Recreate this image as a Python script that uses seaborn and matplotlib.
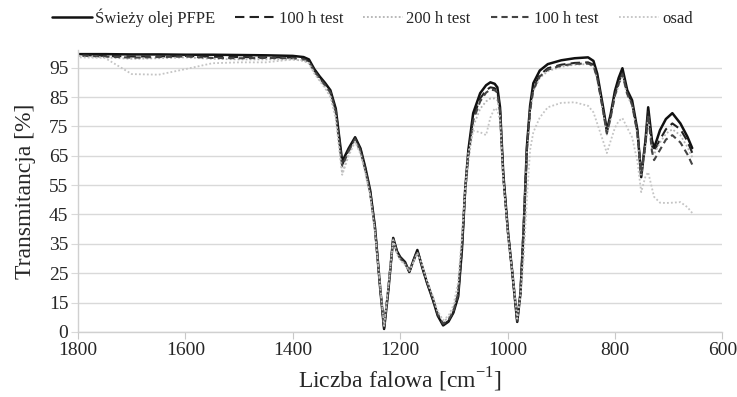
import numpy as np
import pandas as pd
import matplotlib
matplotlib.use('Agg')
import matplotlib.pyplot as plt
import seaborn as sns

# wavenumbers (cm-1), descending
wavenumber = [1800, 1750, 1700, 1650, 1600, 1550, 1500, 1450, 1400, 1380, 1370, 1360, 1350, 1340,
              1330, 1320, 1308, 1296, 1284, 1274, 1265, 1256, 1247, 1237, 1230, 1222, 1213, 1206,
              1200, 1191, 1183, 1175, 1168, 1159, 1150, 1139, 1130, 1120, 1110, 1101, 1092, 1085,
              1079, 1073, 1064, 1051, 1040, 1032, 1024, 1019, 1014, 1008, 999, 991, 982, 976,
              970, 964, 958, 952, 940, 925, 900, 875, 850, 840, 833, 822, 815, 808, 800, 793,
              786, 777, 768, 758, 751, 743, 738, 731, 727, 716, 705, 693, 678, 665, 656]

# transmittance in axis units (bottom grid line sits at 5, labelled "0")
fresh = [99.6, 99.6, 99.5, 99.5, 99.4, 99.4, 99.3, 99.2, 99.0, 98.6, 97.8, 94.5, 92.0, 89.8,
         87.3, 81.0, 63.0, 67.5, 71.3, 67.5, 61.0, 53.3, 40.7, 19.3, 6.0, 19.3, 37.0, 32.5,
         30.5, 28.8, 25.4, 29.5, 32.9, 27.0, 21.7, 15.9, 10.5, 7.2, 8.5, 11.5, 17.0, 33.0,
         53.3, 66.9, 79.5, 86.3, 89.0, 90.0, 89.5, 88.3, 81.5, 59.0, 38.7, 25.0, 8.4, 18.0,
         40.0, 68.0, 82.0, 89.7, 94.0, 96.2, 97.5, 98.2, 98.5, 97.3, 93.0, 81.5, 73.7, 79.0,
         87.0, 91.5, 94.8, 87.3, 83.9, 73.7, 57.7, 70.3, 81.5, 70.3, 67.6, 73.7, 77.5, 79.5,
         76.0, 71.5, 67.6]

test100_a = [99.3, 99.0, 98.8, 98.8, 99.0, 98.7, 98.6, 98.5, 98.4, 98.0, 97.2, 94.0, 91.5, 89.3,
             86.8, 80.5, 62.0, 67.0, 71.0, 67.2, 60.6, 53.0, 40.5, 19.5, 6.3, 19.8, 37.0, 32.3,
             30.3, 28.6, 25.5, 29.5, 32.7, 27.2, 21.8, 16.0, 10.8, 7.5, 8.7, 11.7, 17.5, 33.5,
             53.0, 66.0, 78.0, 84.5, 87.3, 88.3, 88.0, 87.0, 80.5, 58.5, 38.5, 25.0, 8.6, 18.3,
             40.5, 67.5, 81.0, 88.0, 92.5, 94.8, 96.0, 96.6, 96.8, 96.0, 92.0, 80.8, 73.0, 78.5,
             86.0, 90.0, 93.3, 86.5, 83.0, 73.0, 58.5, 69.5, 80.0, 68.5, 66.5, 70.5, 74.0, 76.0,
             74.0, 70.0, 66.0]

test200 = [99.0, 98.5, 98.0, 98.2, 98.5, 98.0, 97.8, 97.8, 97.8, 97.3, 96.5, 93.3, 90.8, 88.5,
           85.5, 78.5, 59.0, 65.5, 70.0, 66.0, 59.5, 51.8, 39.5, 19.8, 7.0, 20.5, 36.5, 31.8,
           29.8, 28.0, 25.8, 29.0, 32.0, 27.6, 22.3, 16.8, 11.8, 8.5, 9.8, 12.8, 19.5, 36.0,
           52.0, 63.0, 75.0, 81.0, 83.5, 84.5, 84.5, 84.0, 79.0, 57.5, 38.0, 25.3, 9.0, 18.8,
           41.5, 66.0, 80.0, 87.0, 91.5, 93.8, 95.3, 96.0, 96.2, 95.3, 91.0, 79.8, 72.2, 77.5,
           85.0, 89.0, 92.3, 85.5, 82.0, 72.0, 58.0, 68.5, 78.5, 67.5, 65.5, 69.5, 72.5, 74.0,
           72.0, 68.0, 64.5]

test100_b = [99.1, 98.8, 98.4, 98.6, 98.8, 98.3, 98.2, 98.3, 98.2, 97.8, 97.0, 93.8, 91.3, 89.0,
             86.5, 80.0, 61.5, 66.5, 70.6, 66.8, 60.2, 52.6, 40.2, 19.6, 6.5, 20.0, 36.7, 32.0,
             30.0, 28.4, 25.6, 29.2, 32.4, 27.4, 22.0, 16.3, 11.0, 7.8, 9.0, 12.0, 18.0, 34.0,
             52.5, 65.0, 77.0, 83.5, 86.5, 87.5, 87.3, 86.5, 80.0, 58.0, 38.3, 25.2, 8.8, 18.5,
             41.0, 67.0, 80.5, 87.5, 92.0, 94.3, 95.7, 96.3, 96.4, 95.6, 91.5, 80.3, 72.6, 78.0,
             85.5, 89.5, 92.8, 86.0, 82.5, 72.5, 59.0, 69.0, 79.0, 66.5, 63.5, 67.0, 70.5, 72.0,
             69.5, 65.5, 62.0]

osad = [98.5, 98.3, 92.8, 92.6, 94.5, 96.5, 96.8, 96.8, 97.8, 97.5, 96.5, 93.0, 90.5, 88.0,
        85.0, 77.5, 58.5, 65.0, 69.8, 65.5, 59.0, 51.5, 39.0, 19.8, 7.0, 20.5, 36.3, 31.5,
        29.5, 27.8, 25.8, 28.8, 31.8, 27.8, 22.5, 17.0, 12.0, 9.0, 10.5, 14.0, 22.0, 38.0,
        54.0, 66.0, 73.5, 73.0, 72.0, 78.0, 81.2, 80.5, 77.0, 57.0, 37.5, 25.0, 9.5, 17.0,
        30.0, 50.0, 67.0, 73.0, 78.0, 81.5, 83.0, 83.2, 82.0, 79.8, 76.0, 70.0, 65.9, 70.0,
        74.5, 76.8, 77.8, 74.5, 71.3, 63.0, 52.6, 58.0, 59.4, 54.0, 51.0, 49.0, 48.9, 49.0,
        49.2, 47.5, 45.5]

ytick_pos = [5, 15, 25, 35, 45, 55, 65, 75, 85, 95]
ytick_lab = ['0', '15', '25', '35', '45', '55', '65', '75', '85', '95']
xticks = [1800, 1600, 1400, 1200, 1000, 800, 600]

sns.set_style('white')
plt.rcParams['font.family'] = ['Liberation Serif', 'DejaVu Serif']
plt.rcParams['mathtext.fontset'] = 'custom'
plt.rcParams['mathtext.rm'] = 'Liberation Serif'

fig = plt.figure(figsize=(7.37, 3.97), dpi=100)
ax = fig.add_axes([0.106, 0.164, 0.874, 0.71])

series = [
    (fresh, 'Świeży olej PFPE', '#111111', '-', 1.8),
    (test100_a, '100 h test', '#222222', (0, (4.5, 2.5)), 1.5),
    (test200, '200 h test', '#b3b3b3', (0, (1, 1.2)), 1.3),
    (test100_b, '100 h test', '#444444', (0, (3, 2)), 1.5),
    (osad, 'osad', '#c4c4c4', (0, (1, 1.2)), 1.3),
]
for vals, lab, col, ls, lw in series:
    sns.lineplot(x=wavenumber, y=vals, ax=ax, color=col, linestyle=ls, linewidth=lw,
                 label=lab)

ax.set_xlim(1800, 600)
ax.set_ylim(5, 101)
ax.set_xticks(xticks)
ax.set_xticklabels([str(t) for t in xticks], fontsize=14)
ax.set_yticks(ytick_pos)
ax.set_yticklabels(ytick_lab, fontsize=14)
ax.yaxis.grid(True, color='#d9d9d9', linewidth=1)
ax.xaxis.grid(False)
for s in ['top', 'right']:
    ax.spines[s].set_visible(False)
for s in ['left', 'bottom']:
    ax.spines[s].set_color('#d0d0d0')
    ax.spines[s].set_linewidth(1)
ax.tick_params(axis='x', length=5, color='#c8c8c8', pad=2, direction='out', bottom=True)
ax.tick_params(axis='y', length=5, color='#d9d9d9', pad=2, direction='out', left=True)

ax.set_xlabel(r'Liczba falowa [cm$^{\mathregular{-1}}$]', fontsize=17, labelpad=5)
ax.set_ylabel('Transmitancja [%]', fontsize=17, labelpad=9)

handles, labels = ax.get_legend_handles_labels()
ax.get_legend().remove()
fig.legend(handles, labels, loc='center', bbox_to_anchor=(0.505, 0.955),
           ncol=5, frameon=False, fontsize=12, handlelength=2.4,
           handletextpad=0.2, columnspacing=1.2, borderaxespad=0)

fig.savefig('out.png', dpi=100)
